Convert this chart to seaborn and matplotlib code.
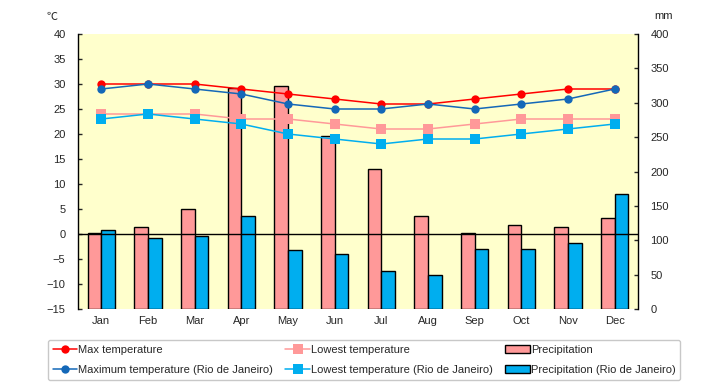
import matplotlib
matplotlib.use('Agg')
import matplotlib.pyplot as plt
import seaborn as sns
import pandas as pd
import numpy as np
from matplotlib.lines import Line2D
from matplotlib.patches import Patch

# Data
months = ['Jan', 'Feb', 'Mar', 'Apr', 'May', 'Jun', 'Jul', 'Aug', 'Sep', 'Oct', 'Nov', 'Dec']
max_temp = [30, 30, 30, 29, 28, 27, 26, 26, 27, 28, 29, 29]
low_temp = [24, 24, 24, 23, 23, 22, 21, 21, 22, 23, 23, 23]
precip = [110, 120, 145, 322, 325, 251, 203, 136, 111, 122, 119, 132]
max_temp_rio = [29, 30, 29, 28, 26, 25, 25, 26, 25, 26, 27, 29]
low_temp_rio = [23, 24, 23, 22, 20, 19, 18, 19, 19, 20, 21, 22]
precip_rio = [115, 104, 106, 136, 86, 80, 56, 50, 87, 88, 96, 168]

sns.set_style('white')
plt.rcParams['font.family'] = ['Liberation Sans', 'Noto Sans CJK JP', 'DejaVu Sans']
plt.rcParams['font.size'] = 8

T_MIN, T_MAX = -15, 40
MM_MAX = 400

c_red = '#FF0000'
c_pink = '#FF9999'
c_blue = '#1468B8'
c_lblue = '#00AEEF'

fig = plt.figure(figsize=(7.2, 3.85), dpi=100)
ax = fig.add_axes([78 / 720, 76 / 385, 560 / 720, 275 / 385])
ax2 = ax.twinx()
# bars live on the mm axis, lines on the temperature axis drawn above them
ax.set_zorder(ax2.get_zorder() + 1)
ax.patch.set_visible(False)
ax2.patch.set_visible(True)
ax2.patch.set_facecolor('#FFFFCC')

bars = pd.DataFrame({
    'month': months * 2,
    'value': precip + precip_rio,
    'series': ['Precipitation'] * 12 + ['Precipitation (Rio de Janeiro)'] * 12,
})
sns.barplot(data=bars, x='month', y='value', hue='series', order=months,
            palette=[c_pink, c_lblue], width=0.58, edgecolor='black',
            linewidth=1, saturation=1, legend=False, ax=ax2)

pos = np.arange(len(months))
sns.lineplot(x=pos, y=max_temp, color=c_red, marker='o', markersize=6,
             markeredgewidth=0, linewidth=1.1, ax=ax, zorder=5)
sns.lineplot(x=pos, y=low_temp, color=c_pink, marker='s', markersize=6.5,
             markeredgewidth=0, linewidth=1.1, ax=ax, zorder=4)
sns.lineplot(x=pos, y=max_temp_rio, color=c_blue, marker='o', markersize=6,
             markeredgewidth=0, linewidth=1.1, ax=ax, zorder=6)
sns.lineplot(x=pos, y=low_temp_rio, color=c_lblue, marker='s', markersize=6.5,
             markeredgewidth=0, linewidth=1.1, ax=ax, zorder=6)

ax.axhline(0, color='black', linewidth=1, zorder=3)
ax.set_xlim(-0.5, 11.5)
ax.set_ylim(T_MIN, T_MAX)
ax.set_yticks(range(T_MIN, T_MAX + 1, 5))
ax.set_xticks(pos)
ax.set_xticklabels(months)
ax.set_xlabel('')
ax.set_ylabel('')
ax.tick_params(axis='y', direction='in', length=3, width=1, pad=9, left=True, labelsize=8)
ax.tick_params(axis='x', length=0, pad=5, labelsize=8)
for s in ['top', 'bottom', 'right']:
    ax.spines[s].set_visible(False)
ax.spines['left'].set_color('black')
ax.spines['left'].set_linewidth(1)

ax2.set_xlim(-0.5, 11.5)
ax2.set_ylim(0, MM_MAX)
ax2.set_yticks(range(0, MM_MAX + 1, 50))
ax2.set_xlabel('')
ax2.set_ylabel('')
ax2.tick_params(axis='y', direction='in', length=3, width=1, pad=9, right=True, labelsize=8)
for s in ['top', 'bottom', 'left']:
    ax2.spines[s].set_visible(False)
ax2.spines['right'].set_color('black')
ax2.spines['right'].set_linewidth(1)

fig.text(52 / 720, 1 - 17 / 385, '℃', ha='center', va='center', fontsize=8)
fig.text(664 / 720, 1 - 16 / 385, 'mm', ha='center', va='center', fontsize=8)

handles = [
    Line2D([], [], color=c_red, marker='o', markersize=6, markeredgewidth=0, lw=1.1),
    Line2D([], [], color=c_blue, marker='o', markersize=6, markeredgewidth=0, lw=1.1),
    Line2D([], [], color=c_pink, marker='s', markersize=6.5, markeredgewidth=0, lw=1.1),
    Line2D([], [], color=c_lblue, marker='s', markersize=6.5, markeredgewidth=0, lw=1.1),
    Patch(facecolor=c_pink, edgecolor='black', linewidth=1),
    Patch(facecolor=c_lblue, edgecolor='black', linewidth=1),
]
labels = ['Max temperature', 'Maximum temperature (Rio de Janeiro)',
          'Lowest temperature', 'Lowest temperature (Rio de Janeiro)',
          'Precipitation', 'Precipitation (Rio de Janeiro)']
leg = fig.legend(handles, labels, ncol=3, loc='center', mode='expand',
                 bbox_to_anchor=(42 / 720, 2 / 385, 644 / 720, 46 / 385),
                 frameon=True, fancybox=True, edgecolor='#BBBBBB',
                 fontsize=8, handlelength=2.2, handletextpad=0.1,
                 labelspacing=0.9, borderpad=0.45, columnspacing=0.5)
leg.get_frame().set_linewidth(1)

fig.savefig('out.png', dpi=100)
